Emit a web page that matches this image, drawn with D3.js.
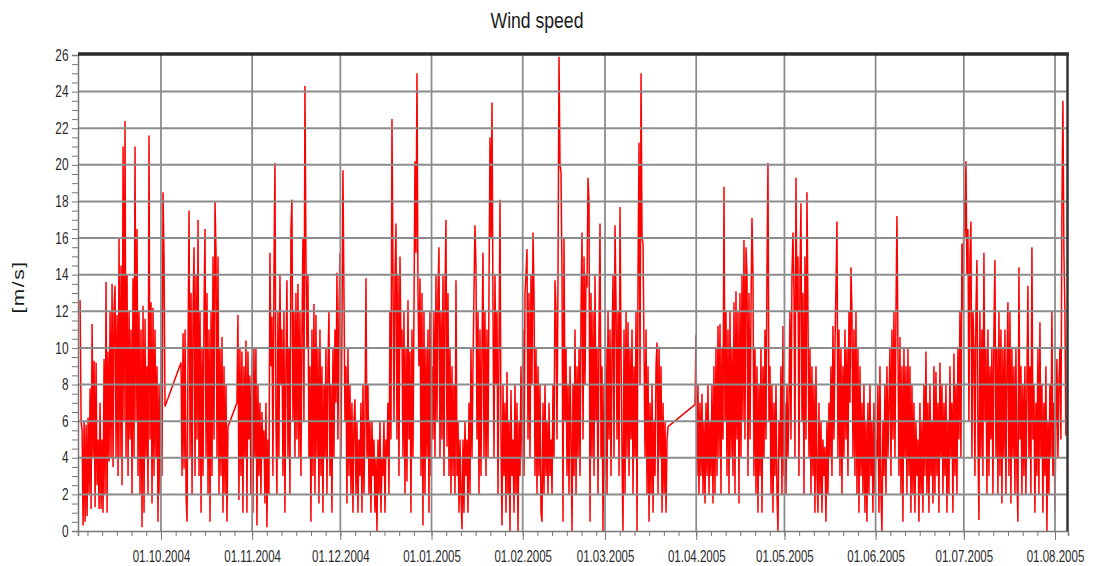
<!DOCTYPE html>
<html>
<head>
<meta charset="utf-8">
<style>
  body { margin: 0; background: #fff; }
  text { font-family: "Liberation Sans", Arial, sans-serif; }
</style>
</head>
<body>
<div id="chart"></div>
<script src="https://d3js.org/d3.v7.min.js"></script>
<script>
// measurement blocks, values evenly spaced between start and end of each block
const segStarts = ['2004-09-03T12:00', '2004-10-07T20:00', '2004-10-26T20:00', '2005-03-31T14:00'];
const segEnds = ['2004-10-02T09:00', '2004-10-23T19:00', '2005-03-22T10:00', '2005-08-04T17:00'];

const segA = [
  12.6, 6, 5.5, 0.3, 6, 0.5, 5.8, 0.8, 6.2, 2,
  7.8, 1.2, 11.3, 4, 9.3, 1.3, 9.2, 2.5, 5, 1.2,
  7, 1.2, 5, 1, 9.4, 2, 13.6, 1, 9.8, 3.8,
  12, 4, 13.5, 3.5, 12.2, 13.4, 4, 11.8, 3, 16,
  4, 14.5, 2.5, 21, 6, 22.4, 4, 14, 3, 12,
  5, 11, 2, 13.8, 4, 21, 6, 16.5, 3, 12,
  2, 11, 0.2, 12.3, 1, 11.6, 4, 9, 2, 21.6,
  5, 12.5, 1.5, 12.2, 3, 11, 4, 9, 0.5, 8,
  2, 10, 3, 18.5, 15, 6.8
];

const segB = [
  9.2, 3, 10.8, 3.4, 11, 2, 0.5, 10, 17.5, 4,
  13, 2, 12, 15.5, 3, 14, 5, 17, 3, 12,
  1, 10, 3, 12, 16.5, 4, 13, 2, 11, 0.5,
  12, 3, 15, 5, 18, 15.2, 4, 15, 2, 10,
  3, 10.6, 1, 9, 2, 8, 0.5, 5.7
];

const segC = [
  7.0, 11.8, 1.7, 10, 3, 9.8, 1, 9, 4, 10.4,
  1, 9.8, 5, 8.5, 2, 9.5, 1, 10, 4, 10,
  0.3, 8, 3, 7, 2, 6.5, 4, 5.5, 1.5, 7,
  0.2, 5, 2, 15.2, 9, 11.7, 3, 14, 20.1, 6,
  2, 12, 4, 14, 8, 11, 3, 12, 1, 9,
  13.7, 4, 10, 2, 16.5, 18.1, 6, 12, 4, 13,
  5, 13.5, 4, 12, 3, 11, 16, 6, 24.3, 15,
  10, 14, 4, 9, 0.5, 11, 3, 12.4, 2, 11.8,
  4, 10, 1.5, 11, 3, 9, 1, 8, 4, 10,
  2, 9, 12, 3, 8, 1, 10, 4, 11, 7,
  14.1, 5, 12, 15.2, 4, 11, 19.7, 13, 6, 9,
  1.5, 10, 3, 8, 2, 7, 1, 6, 7.2, 2,
  6, 1, 5, 3, 7, 1, 8, 2, 6, 13.8,
  4, 8, 2, 6, 1, 6, 3, 5, 1, 4,
  0, 5, 2, 6, 1, 4, 3, 6, 1, 5,
  4, 7, 2, 12, 5, 22.5, 14.3, 6, 13.7, 16.8,
  5, 14, 3, 15, 10, 11, 4, 12, 2, 10,
  2.7, 12.6, 5, 9.8, 1, 11, 4, 12, 20.2, 15.2,
  25, 13, 9, 13.8, 3, 13, 0.3, 12, 2, 10,
  4, 11, 1, 12, 3, 9, 5, 12, 4, 14,
  6, 13, 15.5, 4, 12, 5, 14, 3, 13, 17,
  4.6, 13, 3, 10, 2, 9, 3, 8, 2, 13.7,
  3, 6, 1, 5, 2, 0.1, 5, 1, 6, 3,
  5, 1, 7, 2, 10, 4, 9, 13, 16.7, 14.4,
  5, 12, 2, 11, 3, 10, 15.2, 4, 12, 3,
  11, 4, 13, 21.5, 16, 23.4, 12, 4, 14, 8,
  12, 2, 10, 18.1, 5, 0.3, 8, 3, 7, 1,
  8.7, 2, 6, 0, 7.7, 3, 5, 1, 8, 2,
  7, 0, 6, 3, 9, 4, 11, 3, 13, 14,
  15.4, 5, 13, 4, 14, 8, 16.3, 13, 3, 10,
  2, 9, 3, 8, 1, 0.5, 7, 2, 8, 3,
  6, 2, 7, 3, 5, 2, 8, 4, 13.7, 12,
  5, 14, 25.9, 20, 19.6, 14, 0.5, 16, 6, 10,
  3, 8, 2, 9, 5, 0, 8, 3, 11, 2,
  9, 4, 10, 3, 12, 16.3, 5, 15, 8, 14,
  13.3, 19.3, 17.9, 0.5, 13, 4, 12, 3, 14, 6,
  10, 2, 11, 16.8, 4, 9, 0, 8, 3, 10,
  2, 12, 5, 11, 3, 10, 14, 4, 16.7, 12.5,
  5, 12, 3, 17.7, 10, 4, 0, 11, 2, 12,
  4, 11.4, 3, 10, 5, 11, 2, 9, 4, 12,
  0, 14, 21.2, 8, 25, 16, 15.7, 10, 4, 11,
  2, 9, 0.5, 7, 2, 8, 1, 6, 3, 9,
  10.3, 2, 10, 4, 9, 1, 7, 2, 6, 1,
  5, 5.7
];

const segD = [
  6.9, 10.7, 3, 8, 2, 7, 3, 7.5, 2, 6,
  1.5, 7, 3, 8, 2, 6, 3, 8, 1.5, 9,
  2, 10, 3, 11.2, 4, 11.3, 2, 10, 5, 18.8,
  6, 12, 3, 11, 2, 12, 4, 10, 3, 12.5,
  2, 13.1, 5, 12, 1.5, 13, 4, 14, 6, 15.9,
  5, 15.5, 14, 3, 13, 5, 12, 17.1, 14, 3,
  10, 2, 9, 1, 8, 3, 10, 1, 9, 4,
  11, 5, 14.1, 20.1, 6, 9, 2, 8, 1, 7,
  3, 8, 2, 0, 6, 4, 9, 2, 11.2, 3,
  7, 2, 8, 4, 7, 12, 5, 14, 16.3, 13,
  4, 19.3, 12, 15, 3, 14, 17.9, 6, 13, 2,
  15, 5, 18.5, 12, 4, 10, 2, 9, 3, 8,
  1, 9, 3, 1, 7, 2, 6, 1, 5, 3,
  4.6, 0.5, 6, 2, 7, 4, 9, 3, 11.2, 5,
  10, 13.3, 16.9, 4, 11, 3, 10, 2, 9, 4,
  11, 5, 10, 3, 12, 7, 14.4, 12, 4, 11,
  3, 12, 2, 10, 1, 9, 3, 7, 2, 8,
  1, 6, 0.5, 7, 2, 8, 3, 6, 1, 7,
  2, 5, 4, 8, 1, 9, 2, 0, 6, 3,
  8, 2, 9, 4, 7, 10, 3, 11, 5, 12,
  4, 11.8, 17.2, 10, 3, 10.6, 2, 9, 0.5, 10,
  4, 9, 2, 10, 3, 9, 1, 8, 2, 7,
  1, 6, 3, 5, 0.5, 7, 2, 6, 1, 8,
  3, 9.8, 2, 7, 1, 8, 3, 6, 1.5, 9,
  2, 8.7, 3, 7, 1, 9.2, 4, 8, 2, 7,
  3, 8, 1, 6, 2, 9, 4, 7, 1, 9.7,
  3, 8, 2, 10, 5, 12, 4, 15.7, 12, 18.1,
  16, 20.2, 14, 16.5, 6, 15, 16.9, 4, 12, 10,
  3, 12, 14.8, 5, 0.6, 12, 4, 11, 3, 15.2,
  6, 10, 2, 11, 3, 9, 5, 10, 2, 11,
  14.8, 4, 10, 2, 12, 3, 11, 1.5, 10, 4,
  11, 2, 9, 12.5, 3, 12, 1.5, 10, 4, 9,
  2, 10, 3, 0.5, 14.4, 5, 9, 2, 8, 3,
  9, 2, 8, 13.4, 4, 9, 2, 15.5, 5, 8,
  1, 7, 3, 10, 2, 11.4, 4, 8, 1, 7,
  3, 9, 0, 6, 2, 8, 4, 12, 3, 7,
  1, 6, 9.4, 4, 8, 10, 5, 17.5, 23.5, 15.2, 12, 5.2
];

const monthTicks = ['01.10.2004', '01.11.2004', '01.12.2004', '01.01.2005', '01.02.2005',
  '01.03.2005', '01.04.2005', '01.05.2005', '01.06.2005', '01.07.2005', '01.08.2005'];
const minorDays = [1, 6, 11, 16, 21, 26];
const yLabels = [0, 2, 4, 6, 8, 10, 12, 14, 16, 18, 20, 22, 24, 26];

const W = 1094, H = 566;
const plotLeft = 78, plotRight = 1068, plotTop = 55, plotBottom = 531;
const parse = d3.timeParse('%Y-%m-%dT%H:%M');
const parseTick = d3.timeParse('%d.%m.%Y');

const x = d3.scaleTime()
  .domain([parse('2004-09-02T19:00'), parse('2005-08-05T10:00')])
  .range([plotLeft, plotRight]);
const y = d3.scaleLinear().domain([0, 26]).range([plotBottom, plotTop]);

const points = [];
[segA, segB, segC, segD].forEach((vals, k) => {
  const t0 = parse(segStarts[k]), t1 = parse(segEnds[k]);
  const step = (t1 - t0) / (vals.length - 1);
  vals.forEach((v, i) => points.push({ t: new Date(+t0 + i * step), v: v }));
});

const svg = d3.select('#chart').append('svg')
  .attr('width', W)
  .attr('height', H);

// title
svg.append('text')
  .attr('transform', 'translate(537,28) scale(0.8,1)')
  .attr('text-anchor', 'middle')
  .attr('font-size', 22)
  .attr('fill', '#1a1a1a')
  .text('Wind speed');

// y label
svg.append('text')
  .attr('transform', 'translate(24,287) rotate(-90) scale(1,0.78)')
  .attr('text-anchor', 'middle')
  .attr('font-size', 21)
  .attr('letter-spacing', 1.5)
  .attr('fill', '#1a1a1a')
  .text('[m/s]');

// data line
svg.append('clipPath').attr('id', 'clip')
  .append('rect')
  .attr('x', plotLeft).attr('y', plotTop)
  .attr('width', plotRight - plotLeft).attr('height', plotBottom - plotTop);

const line = d3.line().x(d => x(d.t)).y(d => y(d.v));
svg.append('path')
  .datum(points)
  .attr('clip-path', 'url(#clip)')
  .attr('fill', 'none')
  .attr('stroke', '#ff0000')
  .attr('stroke-width', 1.5)
  .attr('d', line);

// grid on top of the data
const monthDates = monthTicks.map(parseTick);
svg.append('g').selectAll('line')
  .data(yLabels.filter(d => d > 0 && d < 26))
  .join('line')
  .attr('x1', plotLeft).attr('x2', plotRight)
  .attr('y1', d => y(d)).attr('y2', d => y(d))
  .attr('stroke', '#8c8c8c')
  .attr('stroke-width', 2);

svg.append('g').selectAll('line')
  .data(monthDates)
  .join('line')
  .attr('x1', d => x(d)).attr('x2', d => x(d))
  .attr('y1', plotTop).attr('y2', plotBottom)
  .attr('stroke', '#8c8c8c')
  .attr('stroke-width', 1.8);

// y axis
const yAxis = svg.append('g')
  .attr('transform', `translate(${plotLeft},0)`)
  .call(d3.axisLeft(y)
    .tickValues(d3.range(0, 26.01, 0.5))
    .tickSize(6)
    .tickFormat(d => d % 2 === 0 ? d : ''));
yAxis.select('.domain').attr('stroke', '#777').attr('stroke-width', 1.5);
yAxis.selectAll('.tick line').attr('stroke', '#777');
yAxis.selectAll('.tick text')
  .attr('x', null)
  .attr('transform', 'translate(-9.5,0) scale(0.74,1)')
  .attr('font-size', 16)
  .attr('font-family', '"Liberation Sans", Arial, sans-serif')
  .attr('fill', '#2a2a2a');

// x axis, minor ticks every five days
const minorDates = [];
d3.timeMonth.range(new Date(2004, 8, 1), new Date(2005, 8, 1)).forEach(m => {
  minorDays.forEach(dd => {
    const t = new Date(m.getFullYear(), m.getMonth(), dd);
    if (t >= x.domain()[0] && t <= x.domain()[1]) minorDates.push(t);
  });
});

const xMinor = svg.append('g')
  .attr('transform', `translate(0,${plotBottom})`)
  .call(d3.axisBottom(x).tickValues(minorDates).tickSize(5).tickFormat(''));
xMinor.select('.domain').attr('stroke', '#777').attr('stroke-width', 1.5);
xMinor.selectAll('.tick line').attr('stroke', '#777');

const xMajor = svg.append('g')
  .attr('transform', `translate(0,${plotBottom})`)
  .call(d3.axisBottom(x).tickValues(monthDates).tickSize(9).tickFormat((d, i) => monthTicks[i]));
xMajor.select('.domain').remove();
xMajor.selectAll('.tick line').attr('stroke', '#777');
xMajor.selectAll('.tick text')
  .attr('y', null).attr('dy', null)
  .attr('transform', 'translate(0,30.5) scale(0.72,1)')
  .attr('font-size', 16)
  .attr('font-family', '"Liberation Sans", Arial, sans-serif')
  .attr('fill', '#2a2a2a');

// frame: heavy top and right edges
svg.append('line')
  .attr('x1', plotLeft).attr('x2', plotRight + 1)
  .attr('y1', plotTop - 1).attr('y2', plotTop - 1)
  .attr('stroke', '#2a2a2a').attr('stroke-width', 3.5);
svg.append('line')
  .attr('x1', plotRight - 0.5).attr('x2', plotRight - 0.5)
  .attr('y1', plotTop - 2).attr('y2', plotBottom)
  .attr('stroke', '#333').attr('stroke-width', 2.5);
</script>
</body>
</html>
